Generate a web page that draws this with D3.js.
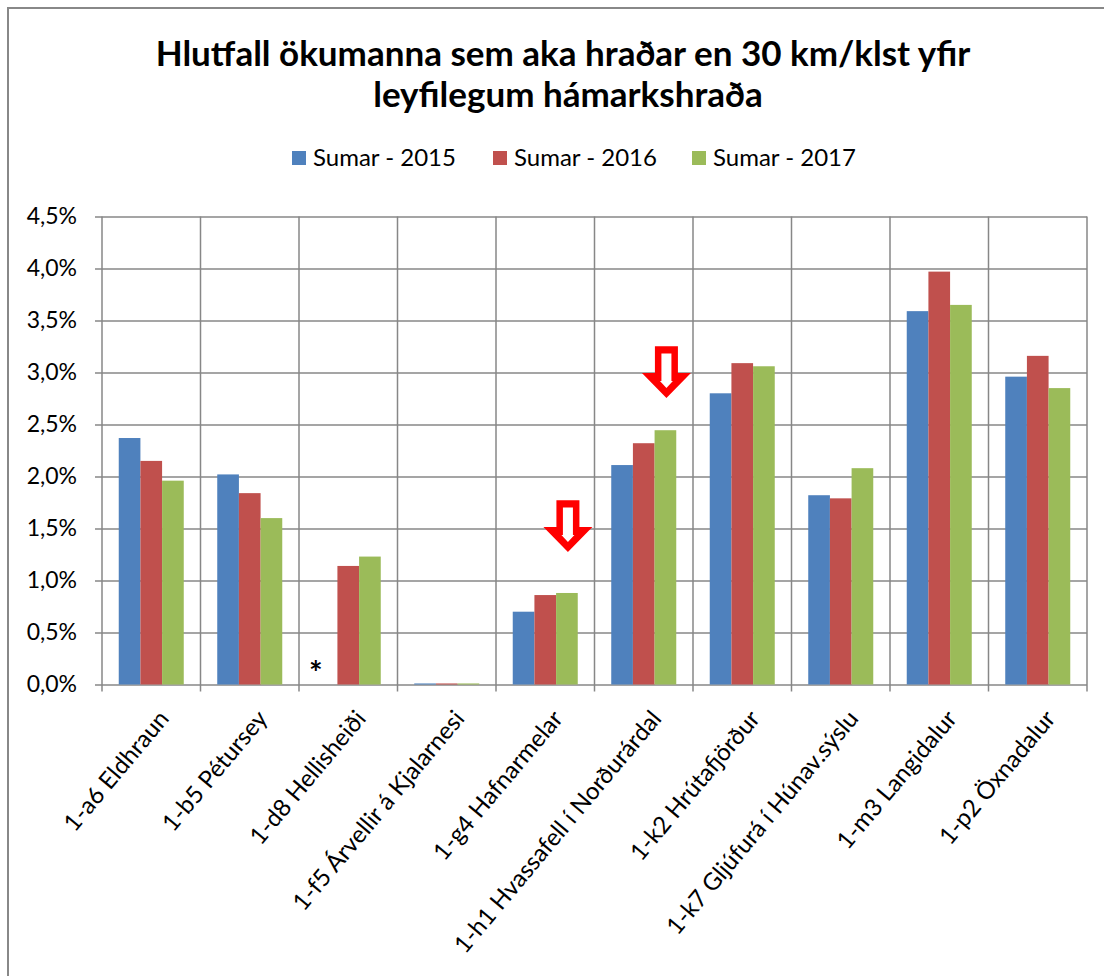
<!DOCTYPE html>
<html>
<head>
<meta charset="utf-8">
<script src="https://cdn.jsdelivr.net/npm/d3@7"></script>
<style>
  body { margin: 0; background: #fff; }
  svg { display: block; font-family: Lato, "Open Sans", sans-serif; }
</style>
</head>
<body>
<svg id="chart" width="1104" height="976"></svg>
<script>
var categories = ["1-a6 Eldhraun", "1-b5 Pétursey", "1-d8 Hellisheiði", "1-f5 Árvellir á Kjalarnesi",
  "1-g4 Hafnarmelar", "1-h1 Hvassafell í Norðurárdal", "1-k2 Hrútafjörður",
  "1-k7 Gljúfurá í Húnav.sýslu", "1-m3 Langidalur", "1-p2 Öxnadalur"];
var seriesNames = ["Sumar - 2015", "Sumar - 2016", "Sumar - 2017"];
var sumar2015 = [2.37, 2.02, null, 0.01, 0.70, 2.11, 2.80, 1.82, 3.59, 2.96];
var sumar2016 = [2.15, 1.84, 1.14, 0.01, 0.86, 2.32, 3.09, 1.79, 3.97, 3.16];
var sumar2017 = [1.96, 1.60, 1.23, 0.01, 0.88, 2.445, 3.06, 2.08, 3.65, 2.85];
var yTicks = [0, 0.5, 1, 1.5, 2, 2.5, 3, 3.5, 4, 4.5];
// red "down" arrows above the 2017 bars, tip at this value
var arrowCats = ["1-g4 Hafnarmelar", "1-h1 Hvassafell í Norðurárdal"];
var arrowTips = [1.275, 2.755];
var colors = ["#4F81BD", "#C0504D", "#9BBB59"];

var svg = d3.select("#chart");
var margin = {top: 216.5, right: 17, bottom: 291.5, left: 102},
    width = 1104 - margin.left - margin.right,
    height = 976 - margin.top - margin.bottom;

var values = [sumar2015, sumar2016, sumar2017];
var data = categories.map(function(c, i) {
  return {cat: c, vals: values.map(function(s, j) { return {k: j, v: s[i]}; })};
});

var comma = d3.formatLocale({decimal: ",", thousands: ".", grouping: [3], currency: ["", ""]});
var fmt = comma.format(".1f");

// outer chart border (runs off the right/bottom edge)
svg.append("rect")
  .attr("x", 8).attr("y", 8).attr("width", 1120).attr("height", 1000)
  .attr("fill", "none").attr("stroke", "#888").attr("stroke-width", 2);

svg.append("text")
  .attr("x", 563).attr("y", 66)
  .attr("text-anchor", "middle")
  .attr("font-size", 35).attr("font-weight", "bold")
  .text("Hlutfall ökumanna sem aka hraðar en 30 km/klst yfir");
svg.append("text")
  .attr("x", 568).attr("y", 107)
  .attr("text-anchor", "middle")
  .attr("font-size", 35).attr("font-weight", "bold")
  .text("leyfilegum hámarkshraða");

var legend = svg.append("g");
var legX = [292, 493, 692];
seriesNames.forEach(function(n, i) {
  legend.append("rect")
    .attr("x", legX[i]).attr("y", 151).attr("width", 14).attr("height", 14)
    .attr("fill", colors[i]);
  legend.append("text")
    .attr("x", legX[i] + 21).attr("y", 166)
    .attr("font-size", 24)
    .text(n);
});

var g = svg.append("g")
  .attr("transform", "translate(" + margin.left + "," + margin.top + ")");

var x0 = d3.scaleBand().domain(categories).range([0, width])
  .paddingInner(0.34).paddingOuter(0.17);
var x1 = d3.scaleBand().domain(d3.range(3)).range([0, x0.bandwidth()]);
var y = d3.scaleLinear().domain([0, 4.5]).range([height, 0]);
var step = x0.step();

// horizontal gridlines + y ticks
g.append("g")
  .attr("class", "axis axis--y")
  .call(d3.axisLeft(y).tickValues(yTicks).tickSize(7).tickFormat(function(d) { return fmt(d) + "%"; }))
  .call(function(a) {
    a.select(".domain").remove();
    a.selectAll(".tick line").attr("x2", width).attr("x1", -7)
      .attr("stroke", "#878787").attr("stroke-width", 1.5);
    a.selectAll(".tick text").attr("x", -25).attr("font-size", 23)
      .attr("font-family", "Lato, sans-serif").attr("fill", "#000");
  });

// vertical gridlines at category boundaries
var bounds = d3.range(categories.length + 1);
g.append("g").selectAll("line")
  .data(bounds)
  .enter().append("line")
    .attr("x1", function(i) { return i * step; })
    .attr("x2", function(i) { return i * step; })
    .attr("y1", 0).attr("y2", height + 7)
    .attr("stroke", "#878787").attr("stroke-width", 1.5);

var groups = g.selectAll(".grp")
  .data(data)
  .enter().append("g")
    .attr("class", "grp")
    .attr("transform", function(d) { return "translate(" + x0(d.cat) + ",0)"; });

groups.selectAll("rect")
  .data(function(d) { return d.vals.filter(function(e) { return e.v != null; }); })
  .enter().append("rect")
    .attr("x", function(e) { return x1(e.k); })
    .attr("y", function(e) { return y(e.v); })
    .attr("width", x1.bandwidth())
    .attr("height", function(e) { return height - y(e.v); })
    .attr("fill", function(e) { return colors[e.k]; });

// asterisk where 2015 is missing
data.forEach(function(d) {
  if (d.vals[0].v == null) {
    g.append("text")
      .attr("x", x0(d.cat) + x1(0))
      .attr("y", height)
      .attr("text-anchor", "middle")
      .attr("font-size", 32).attr("font-weight", "bold")
      .text("*");
  }
});

// category labels
g.append("g").selectAll("text")
  .data(categories)
  .enter().append("text")
    .attr("transform", function(c) {
      return "translate(" + (x0(c) + x0.bandwidth() / 2 + 6) + "," + (height + 24) + ") rotate(-50)";
    })
    .attr("text-anchor", "end")
    .attr("dy", "0.7em")
    .attr("font-size", 24)
    .text(function(c) { return c; });

// arrows
var arrowOuter = [[-11.5, -51.7], [11.5, -51.7], [11.5, -25], [24.5, -25], [0, 0], [-24.5, -25], [-11.5, -25]];
var arrowInner = [[-5, -44.5], [5, -44.5], [5, -17], [6.5, -17], [0, -10], [-6.5, -17], [-5, -17]];
arrowCats.forEach(function(c, i) {
  var ax = x0(c) + x1(2) + x1.bandwidth() / 2 + 1;
  var ay = y(arrowTips[i]);
  var ag = g.append("g").attr("transform", "translate(" + ax + "," + ay + ")");
  ag.append("path").attr("d", d3.line()(arrowOuter) + "Z").attr("fill", "#FF0000");
  ag.append("path").attr("d", d3.line()(arrowInner) + "Z").attr("fill", "#fff");
});
</script>
</body>
</html>
